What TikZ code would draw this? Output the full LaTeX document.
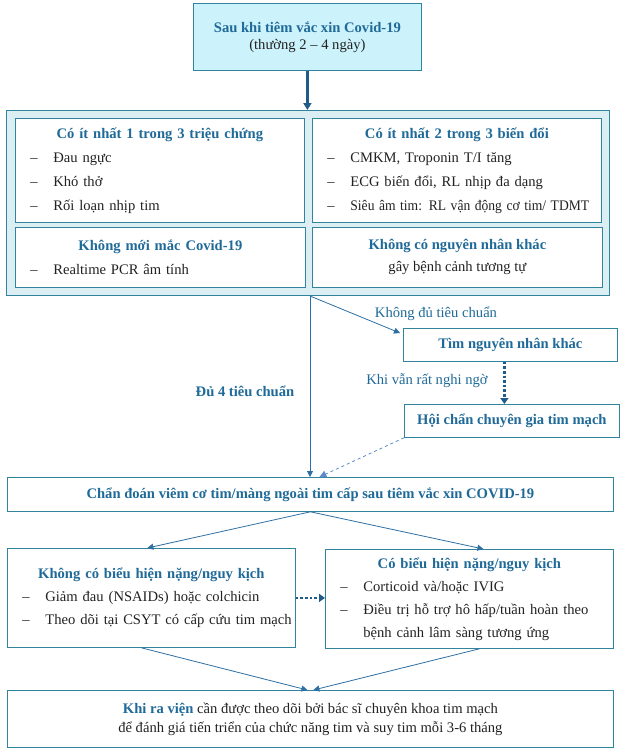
\documentclass[tikz,border=0pt]{standalone}
\usepackage{fontspec}
\setmainfont{Liberation Serif}
\usepackage{xcolor}
\usetikzlibrary{arrows.meta,positioning,calc}
\definecolor{Teal}{HTML}{31849B}
\definecolor{Title}{HTML}{1F6A98}
\definecolor{Sky}{HTML}{CCF2FB}
\definecolor{Pale}{HTML}{DAEEF3}
\definecolor{Arrow}{HTML}{1F5C8A}
\definecolor{Wire}{HTML}{2E6FA3}
\definecolor{Dash}{HTML}{5B8CC8}
\definecolor{Ink}{HTML}{222222}
\newcommand{\boxtitle}[1]{\textcolor{Title}{\textbf{#1}}}
\newcommand{\itm}[1]{\hspace*{15pt}\makebox[23pt][l]{–}#1}
\tikzset{
  box/.style={draw=Teal, line width=0.8pt, fill=white, anchor=north west, inner sep=0pt, align=center, text=Ink, font=\fontsize{14.6pt}{17pt}\selectfont},
  listbox/.style={box, align=left, font=\fontsize{14.6pt}{24pt}\selectfont},
  wire/.style={draw=Wire, line width=0.8pt, -{Triangle[length=6pt,width=6pt]}},
  thickarrow/.style={draw=Arrow, line width=2.6pt, -{Triangle[length=7pt,width=8pt]}},
  dotarrow/.style={draw=Arrow, line width=2.6pt, dotted, -{Triangle[length=6pt,width=8pt]}},
  dasharrow/.style={draw=Dash, line width=0.8pt, dashed, -{Triangle[length=7pt,width=7pt]}},
  edgelabel/.style={font=\fontsize{14.6pt}{15pt}\selectfont, text=Title},
}
\begin{document}
\begin{tikzpicture}[x=1pt,y=-1pt]
\useasboundingbox[fill=white] (0,0) rectangle (626,755);

% start
\node[box, fill=Sky, minimum width=228pt, minimum height=67pt] (start) at (193,3) {\boxtitle{Sau khi tiêm vắc xin Covid-19}\\(thường 2 – 4 ngày)};

% criteria panel
\node[box, fill=Pale, line width=1.2pt, minimum width=603pt, minimum height=185pt] (crit) at (6,110) {};
\node[listbox, text width=289pt, minimum height=104pt] (sym) at (15,118) {\makebox[\hsize]{\boxtitle{Có ít nhất 1 trong 3 triệu chứng}}\\\itm{Đau ngực}\\\itm{Khó thở}\\\itm{Rối loạn nhịp tim}};
\node[listbox, text width=289pt, minimum height=104pt] (lab) at (312,118) {\makebox[\hsize]{\boxtitle{Có ít nhất 2 trong 3 biến đổi}}\\\itm{CMKM, Troponin T/I tăng}\\\itm{ECG biến đổi, RL nhịp đa dạng}\\\itm{\scalebox{0.93}[1]{Siêu âm tim: RL vận động cơ tim/ TDMT}}};
\node[listbox, text width=290pt, minimum height=60pt] (neg) at (15,227) {\makebox[\hsize]{\boxtitle{Không mới mắc Covid-19}}\\\itm{Realtime PCR âm tính}};
\node[box, minimum width=290pt, minimum height=60pt, font=\fontsize{14.6pt}{22pt}\selectfont] (other) at (312,227) {\boxtitle{Không có nguyên nhân khác}\\gây bệnh cảnh tương tự};
\draw[thickarrow] (start.south) -- (crit.north -| start.south);

% branches
\coordinate (fork) at (310,296);
\node[box, minimum width=214pt, minimum height=33pt] (seek) at (403,328) {\boxtitle{Tìm nguyên nhân khác}};
\node[box, minimum width=215pt, minimum height=33pt] (consult) at (404,404) {\boxtitle{Hội chẩn chuyên gia tim mạch}};
\node[box, minimum width=606pt, minimum height=34pt] (diag) at (7,477) {\boxtitle{Chẩn đoán viêm cơ tim/màng ngoài tim cấp sau tiêm vắc xin COVID-19}};
\node[edgelabel] (notenough) at (436,314) {Không đủ tiêu chuẩn};
\node[edgelabel] (suspect) at (427,381) {Khi vẫn rất nghi ngờ};
\node[edgelabel, font=\fontsize{14.6pt}{15pt}\selectfont\bfseries] (enough) at (245,391) {Đủ 4 tiêu chuẩn};
\draw[wire] (fork) -- (fork |- diag.north);
\draw[wire] (fork) -- ([xshift=-3pt,yshift=-5pt]seek.north west);
\draw[dotarrow] ([xshift=-6pt]seek.south) -- ([xshift=-6pt]seek.south |- consult.north);
\draw[dasharrow] (consult.south west) -- ([xshift=9pt]diag.north);

% treatment
\node[listbox, text width=288pt, minimum height=99pt, font=\fontsize{14.6pt}{23pt}\selectfont] (mild) at (7,548) {\makebox[\hsize]{\boxtitle{Không có biểu hiện nặng/nguy kịch}}\\\itm{Giảm đau (NSAIDs) hoặc colchicin}\\\itm{Theo dõi tại CSYT có cấp cứu tim mạch}};
\node[listbox, text width=288pt, minimum height=99pt, font=\fontsize{14.6pt}{23pt}\selectfont] (severe) at (325,549) {\makebox[\hsize]{\boxtitle{Có biểu hiện nặng/nguy kịch}}\\\itm{Corticoid và/hoặc IVIG}\\\itm{\makebox[239pt][s]{Điều trị hỗ trợ hô hấp/tuần hoàn theo}}\\\hspace*{38pt}bệnh cảnh lâm sàng tương ứng};
\draw[wire] (diag.south) -- ([xshift=-4pt]mild.north);
\draw[wire] (diag.south) -- ([xshift=14pt]severe.north);
\draw[dotarrow] (mild.east) -- (mild.east -| severe.west);

% follow-up
\node[box, minimum width=606pt, minimum height=57pt, font=\fontsize{14.6pt}{19pt}\selectfont] (follow) at (7,690) {\boxtitle{Khi ra viện} cần được theo dõi bởi bác sĩ chuyên khoa tim mạch\\để đánh giá tiến triển của chức năng tim và suy tim mỗi 3-6 tháng};
\draw[wire] ([xshift=-10pt]mild.south) -- ([xshift=-3pt]follow.north);
\draw[wire] ([xshift=10pt]severe.south) -- ([xshift=3pt]follow.north);
\end{tikzpicture}
\end{document}
